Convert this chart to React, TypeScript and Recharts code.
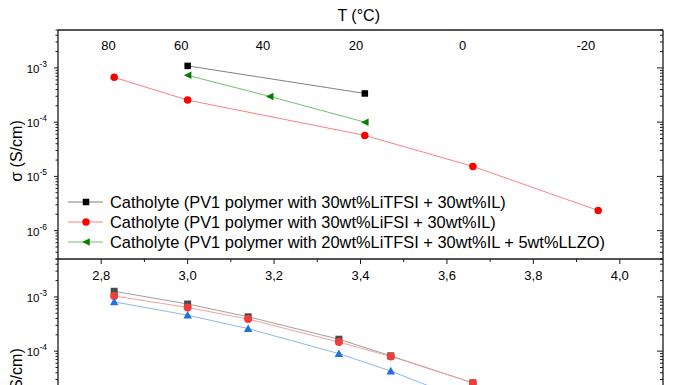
import { Legend, Line, LineChart, XAxis, YAxis } from "recharts";

const FONT = "Arial, 'Liberation Sans', Helvetica, sans-serif";
const AXIS = "#1a1a1a";

// upper panel: x = 1000/T (1/K), y = sigma (S/cm)
const litfsiX = [3.0, 3.41];
const litfsiSigma = [1.09e-3, 3.38e-4];
const lifsiX = [2.83, 3.0, 3.41, 3.66, 3.95];
const lifsiSigma = [6.7e-4, 2.55e-4, 5.7e-5, 1.53e-5, 2.35e-6];
const llzoX = [3.0, 3.19, 3.41];
const llzoSigma = [7.3e-4, 2.98e-4, 1.0e-4];

// lower panel (cut off at the bottom of the picture)
const lowerX = [2.83, 3.0, 3.14, 3.35, 3.47, 3.66];
const lowerBlack = [1.27e-3, 7.4e-4, 4.3e-4, 1.66e-4, 8.2e-5, 2.6e-5];
const lowerRed = [1.04e-3, 6.4e-4, 3.9e-4, 1.47e-4, 8.0e-5, 2.6e-5];
const lowerBlue = [8.1e-4, 4.6e-4, 2.6e-4, 9.0e-5, 4.3e-5, 1.1e-5];

const legendLabels = [
  "Catholyte (PV1 polymer with 30wt%LiTFSI + 30wt%IL)",
  "Catholyte (PV1 polymer with 30wt%LiFSI + 30wt%IL)",
  "Catholyte (PV1 polymer with 20wt%LiTFSI + 30wt%IL + 5wt%LLZO)",
];

// axes
const xDomain = [2.7, 4.1];
const yDomain = [3e-7, 5e-3];
const majorXTicks = [2.8, 3.0, 3.2, 3.4, 3.6, 3.8, 4.0];
const minorXTicks = [2.9, 3.1, 3.3, 3.5, 3.7, 3.9];
const topTicksC = [80, 60, 40, 20, 0, -20];
// the top axis labels sit slightly left of 1000/(T+273.15) in the source figure
const topTickPos = topTicksC.map((t) => 1000 / (t + 275));

const yTicks: number[] = [];
for (let e = -7; e <= -3; e++) {
  for (let m = 1; m <= 9; m++) {
    const v = m * Math.pow(10, e);
    if (v >= yDomain[0] && v <= yDomain[1]) yTicks.push(v);
  }
}

const toPoints = (xs: number[], ys: number[]) => xs.map((x, i) => ({ x, y: ys[i] }));

const isDecade = (v: number) => {
  const l = Math.log10(v);
  return Math.abs(l - Math.round(l)) < 1e-6;
};

function LeftTick(props: any) {
  const { x, y, payload } = props;
  const major = isDecade(payload.value);
  const exp = Math.round(Math.log10(payload.value));
  return (
    <g>
      <line x1={x} x2={x - (major ? 4 : 2.5)} y1={y} y2={y} stroke={AXIS} strokeWidth={1} />
      {major && (
        <text x={x - 11} y={y + 5} textAnchor="end" fontFamily={FONT} fontSize={11.5} fill="#000">
          10
          <tspan dy={-6} fontSize={8.5}>
            {exp}
          </tspan>
        </text>
      )}
    </g>
  );
}

function RightTick(props: any) {
  const { x, y, payload } = props;
  const major = isDecade(payload.value);
  return <line x1={x} x2={x - (major ? 6 : 3)} y1={y} y2={y} stroke={AXIS} strokeWidth={1} />;
}

function BottomTick(props: any) {
  const { x, y, payload } = props;
  const major = majorXTicks.includes(payload.value);
  return (
    <g>
      <line x1={x} x2={x} y1={y} y2={y + (major ? 5 : 3)} stroke={AXIS} strokeWidth={1} />
      {major && (
        <text x={x} y={y + 21} textAnchor="middle" fontFamily={FONT} fontSize={13} fill="#000">
          {payload.value.toFixed(1).replace(".", ",")}
        </text>
      )}
    </g>
  );
}

function TopTick(props: any) {
  const { x, y, payload } = props;
  const celsius = Math.round(1000 / payload.value - 275);
  return (
    <text x={x} y={y + 20} textAnchor="middle" fontFamily={FONT} fontSize={13} fill="#000">
      {celsius}
    </text>
  );
}

type Marker = "square" | "circle" | "triLeft" | "triUp";

function drawMarker(kind: Marker, cx: number, cy: number, size: number, fill: string, key?: any) {
  const h = size / 2;
  if (kind === "square") return <rect key={key} x={cx - h} y={cy - h} width={size} height={size} fill={fill} />;
  if (kind === "circle") return <circle key={key} cx={cx} cy={cy} r={h} fill={fill} />;
  if (kind === "triLeft")
    return <polygon key={key} points={`${cx - h},${cy} ${cx + h},${cy - h} ${cx + h},${cy + h}`} fill={fill} />;
  return <polygon key={key} points={`${cx},${cy - h} ${cx + h},${cy + h * 0.8} ${cx - h},${cy + h * 0.8}`} fill={fill} />;
}

const upperSeries = [
  { data: toPoints(litfsiX, litfsiSigma), line: "#808080", fill: "#000000", marker: "square" as Marker, size: 6.5 },
  { data: toPoints(lifsiX, lifsiSigma), line: "#ff8080", fill: "#ff0000", marker: "circle" as Marker, size: 7.5 },
  { data: toPoints(llzoX, llzoSigma), line: "#70c070", fill: "#008000", marker: "triLeft" as Marker, size: 7.5 },
];

const lowerSeries = [
  { data: toPoints(lowerX, lowerBlack), line: "#a0a0a0", fill: "#4a4a4a", marker: "square" as Marker, size: 7 },
  { data: toPoints(lowerX, lowerRed), line: "#f7a0a0", fill: "#f03c3c", marker: "circle" as Marker, size: 8 },
  { data: toPoints(lowerX, lowerBlue), line: "#8ab8f0", fill: "#1f70e0", marker: "triUp" as Marker, size: 8.5 },
];

function LegendBox() {
  return (
    <div style={{ fontFamily: FONT, fontSize: 16.4, color: "#000" }}>
      {upperSeries.map((s, i) => (
        <div key={i} style={{ display: "flex", alignItems: "center", height: 20 }}>
          <svg width={36} height={20} style={{ flex: "none" }}>
            <line x1={0} x2={35} y1={10} y2={10} stroke={s.line} strokeWidth={1} />
            {drawMarker(s.marker, 18, 10, s.size, s.fill)}
          </svg>
          <span style={{ marginLeft: 6, whiteSpace: "nowrap", lineHeight: "20px" }}>{legendLabels[i]}</span>
        </div>
      ))}
    </div>
  );
}

function LogAxes() {
  return [
    <YAxis
      key="l"
      yAxisId="left"
      type="number"
      scale="log"
      domain={yDomain}
      allowDataOverflow
      ticks={yTicks}
      interval={0}
      width={58}
      tickSize={0}
      tickMargin={0}
      tickLine={false}
      tick={LeftTick}
      axisLine={{ stroke: AXIS, strokeWidth: 1.3 }}
    />,
    <YAxis
      key="r"
      yAxisId="right"
      orientation="right"
      type="number"
      scale="log"
      domain={yDomain}
      allowDataOverflow
      ticks={yTicks}
      interval={0}
      width={33}
      tickSize={0}
      tickMargin={0}
      tickLine={false}
      tick={RightTick}
      axisLine={{ stroke: AXIS, strokeWidth: 1.3 }}
    />,
  ];
}

function seriesLines(list: typeof upperSeries, prefix: string) {
  return list.map((s, i) => (
    <Line
      key={prefix + i}
      data={s.data}
      dataKey="y"
      xAxisId="bottom"
      yAxisId="left"
      type="linear"
      stroke={s.line}
      strokeWidth={1}
      dot={(p: any) => drawMarker(s.marker, p.cx, p.cy, s.size, s.fill, p.index)}
      activeDot={false}
      isAnimationActive={false}
    />
  ));
}

// invisible series so that the mirror axes (top / right) get ticks
function mirrorLine(xAxisId: string, data: { x: number; y: number }[]) {
  return (
    <Line
      data={data}
      dataKey="y"
      xAxisId={xAxisId}
      yAxisId="right"
      stroke="none"
      dot={false}
      activeDot={false}
      legendType="none"
      isAnimationActive={false}
    />
  );
}

export default function App() {
  return (
    <div
      style={{
        position: "absolute",
        left: 0,
        top: 0,
        width: 696,
        height: 385,
        overflow: "hidden",
        background: "#fff",
      }}
    >
      {/* lower panel, only its top part is visible */}
      <div style={{ position: "absolute", left: 0, top: 0 }}>
        <LineChart width={696} height={520} margin={{ top: 259, right: 0, bottom: 32, left: 0 }}>
          <XAxis xAxisId="bottom" type="number" dataKey="x" domain={xDomain} allowDataOverflow hide />
          {LogAxes()}
          {seriesLines(lowerSeries, "low")}
          {mirrorLine("bottom", lowerSeries[0].data)}
        </LineChart>
      </div>

      {/* upper panel */}
      <div style={{ position: "absolute", left: 0, top: 0 }}>
        <LineChart width={696} height={300} margin={{ top: 29, right: 0, bottom: 0, left: 0 }}>
          <XAxis
            xAxisId="bottom"
            type="number"
            dataKey="x"
            domain={xDomain}
            allowDataOverflow
            ticks={[...majorXTicks, ...minorXTicks]}
            interval={0}
            height={41}
            tickSize={0}
            tickMargin={0}
            tickLine={false}
            tick={BottomTick}
            axisLine={{ stroke: AXIS, strokeWidth: 1.3 }}
          />
          <XAxis
            xAxisId="top"
            orientation="top"
            type="number"
            dataKey="x"
            domain={xDomain}
            allowDataOverflow
            ticks={topTickPos}
            interval={0}
            height={1}
            tickSize={0}
            tickMargin={0}
            tickLine={false}
            tick={TopTick}
            axisLine={{ stroke: AXIS, strokeWidth: 1.3 }}
          />
          {LogAxes()}
          {seriesLines(upperSeries, "up")}
          {mirrorLine("top", upperSeries[1].data)}
          <Legend
            layout="vertical"
            align="center"
            verticalAlign="middle"
            wrapperStyle={{ left: 68, top: 192, width: 620, height: 60 }}
            content={() => <LegendBox />}
          />
        </LineChart>
      </div>

      {/* axis titles */}
      <svg width={696} height={385} style={{ position: "absolute", left: 0, top: 0, pointerEvents: "none" }}>
        <text x={358.7} y={21} textAnchor="middle" fontFamily={FONT} fontSize={16} fill="#000">
          T (°C)
        </text>
        <text
          x={0}
          y={0}
          transform="translate(22 151) rotate(-90)"
          textAnchor="middle"
          fontFamily={FONT}
          fontSize={16}
          fill="#000"
        >
          σ (S/cm)
        </text>
        <text
          x={0}
          y={0}
          transform="translate(22 379) rotate(-90)"
          textAnchor="middle"
          fontFamily={FONT}
          fontSize={16}
          fill="#000"
        >
          σ (S/cm)
        </text>
      </svg>
    </div>
  );
}
